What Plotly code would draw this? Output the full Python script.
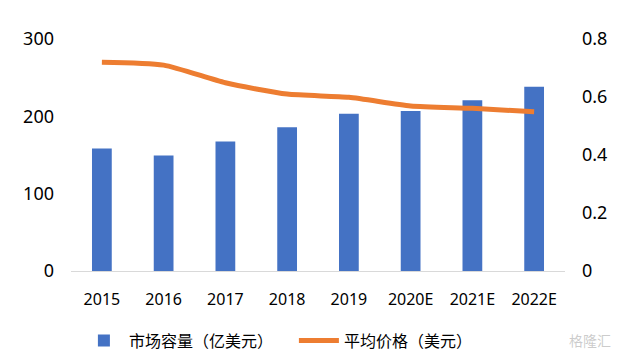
import plotly.graph_objects as go

categories = ["2015", "2016", "2017", "2018", "2019", "2020E", "2021E", "2022E"]
market_size = [158.5, 149.5, 167.6, 185.8, 203.5, 206.9, 220.7, 238.3]
avg_price = [0.72, 0.71, 0.649, 0.61, 0.599, 0.569, 0.561, 0.549]
left_ticks = [0, 100, 200, 300]
right_ticks = [0, 0.2, 0.4, 0.6, 0.8]
right_tick_labels = ["0", "0.2", "0.4", "0.6", "0.8"]
watermark = "格隆汇"

font_family = "Noto Sans, Noto Sans CJK SC, sans-serif"

fig = go.Figure()
fig.add_trace(go.Bar(
    x=categories, y=market_size, name="市场容量（亿美元）",
    marker=dict(color="#4472C4", line=dict(width=0)),
    width=0.32, yaxis="y",
))
fig.add_trace(go.Scatter(
    x=categories, y=avg_price, name="平均价格（美元）",
    mode="lines", line=dict(color="#ED7D31", width=5, shape="spline", smoothing=0.6),
    yaxis="y2",
))

fig.add_annotation(
    text=watermark, xref="paper", yref="paper", x=1.098, y=-0.30,
    xanchor="right", yanchor="middle", showarrow=False,
    font=dict(size=14, color="rgba(160,160,160,0.55)", family=font_family),
)

fig.update_layout(
    width=614, height=352,
    margin=dict(l=63, r=57, t=31, b=89, autoexpand=False),
    paper_bgcolor="white", plot_bgcolor="white",
    font=dict(family=font_family, size=16, color="#000000"),
    showlegend=True,
    legend=dict(orientation="h", x=0.016, xanchor="left", y=-0.30, yanchor="middle",
                font=dict(size=16), itemwidth=40, tracegroupgap=0,
                entrywidth=160, entrywidthmode="pixels"),
    xaxis=dict(showgrid=False, showline=True, linecolor="#D9D9D9", linewidth=1,
               ticks="", ticklabelstandoff=14, tickfont=dict(size=16), automargin=False),
    yaxis=dict(range=[0, 300], tickvals=left_ticks, showgrid=False, zeroline=False,
               showline=False, ticks="", ticklabelstandoff=16, tickfont=dict(size=18),
               automargin=False),
    yaxis2=dict(range=[0, 0.8], tickvals=right_ticks, ticktext=right_tick_labels,
                overlaying="y", side="right", showgrid=False, zeroline=False,
                showline=False, ticks="", ticklabelstandoff=16, tickfont=dict(size=18),
                automargin=False),
)

fig.write_html("out.html")
